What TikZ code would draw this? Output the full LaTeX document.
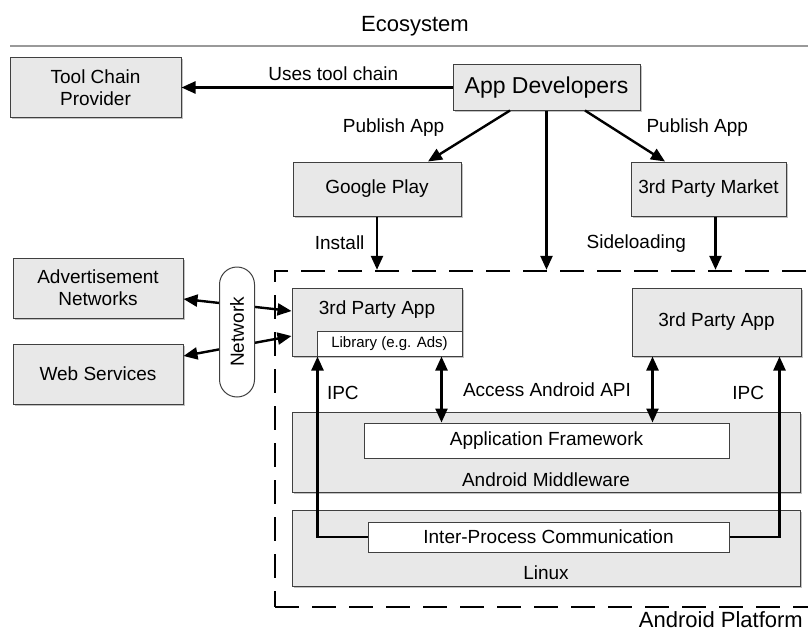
\documentclass[tikz,border=0pt]{standalone}
\usepackage{fontspec}
\setmainfont{Liberation Sans}
\usetikzlibrary{arrows.meta, positioning, shapes.misc, shadows}
\tikzstyle{layers}=[x=1pt, y=-1pt, >={Triangle[length=14pt,width=12pt]}, font=\fontsize{19}{22}\selectfont]
\tikzstyle{block}=[draw=black!75, line width=1pt, fill=black!9, align=center, inner sep=0pt,
  drop shadow={shadow xshift=1.5pt, shadow yshift=-1.5pt, fill=black!40, opacity=0.6}]
\tikzstyle{slot}=[draw=black!75, line width=1pt, fill=white, inner sep=0pt]
\tikzstyle{link}=[line width=2.4pt, ->]

\begin{document}
\begin{tikzpicture}[layers]
  \useasboundingbox (0,0) rectangle (808,634);
  \node (eco) at (415,26) {\fontsize{22}{26}\selectfont Ecosystem};
  \draw[line width=2.5pt, black!40] (10,46) -- (808,46);

  % ecosystem
  \node[block, minimum width=171pt, minimum height=59pt] (tools)  at (95.5,87.5) {Tool Chain\\Provider};
  \node[block, minimum width=187pt, minimum height=45pt, font=\fontsize{23}{26}\selectfont] (appdev) at (546.5,87.5) {App Developers};
  \node[block, minimum width=168pt, minimum height=54pt] (gplay)  at (377,189)  {Google Play};
  \node[block, minimum width=155pt, minimum height=54pt] (market) at (708.5,189) {3rd Party Market};
  \node[block, minimum width=170pt, minimum height=60pt] (adnet)  at (98,288)   {Advertisement\\Networks};
  \node[block, minimum width=170pt, minimum height=60pt] (websvc) [below=25pt of adnet] {Web Services};

  % android platform
  \node[draw, line width=2.4pt, dash pattern=on 24pt off 13pt, minimum width=560pt, minimum height=336pt,
        inner sep=0pt] (platform) at (555,439) {};
  \node (platname) [anchor=east, inner sep=0pt] at (803,620) {\fontsize{22}{26}\selectfont Android Platform};

  \node[block, minimum width=170pt, minimum height=68pt] (app1) at (377,322) {};
  \node (app1name) at ([yshift=-22pt]app1.north) {3rd Party App};
  \node[slot, minimum width=145pt, minimum height=25pt, font=\fontsize{15}{18}\selectfont] (lib) at (389.5,343.5) {Library (e.g. Ads)};
  \node[block, minimum width=169pt, minimum height=68pt] (app2) at (716.5,322) {3rd Party App};

  \node[block, minimum width=508pt, minimum height=80pt] (mw) at (546,452) {};
  \node[slot, minimum width=365pt, minimum height=35pt] (fw) at (546.5,440.5) {Application Framework};
  \node (mwname) at ([yshift=13pt]mw.south) {Android Middleware};
  \node[block, minimum width=508pt, minimum height=76pt] (linux) [below=17pt of mw] {};
  \node[slot, minimum width=361pt, minimum height=30pt] (ipc) at (548.5,537) {Inter-Process Communication};
  \node (linuxname) at ([yshift=14pt]linux.south) {Linux};

  \coordinate (side) at ([xshift=7pt]market.south);
  \path[link]
    (appdev.west) edge node[above=2pt, pos=0.44] {Uses tool chain} (tools.east)
    ([xshift=-36.5pt]appdev.south) edge node[above left, pos=0.6, xshift=-12pt] {Publish App} ([xshift=51pt]gplay.north)
    ([xshift=38.5pt]appdev.south) edge node[above right, pos=0.6, xshift=9pt] {Publish App} ([xshift=-43.5pt]market.north)
    (appdev.south) edge (appdev.south |- platform.north)
    (gplay.south) edge node[left=8pt] {Install} (gplay.south |- platform.north)
    (side) edge node[left=25pt] {Sideloading} (side |- platform.north);

  % network
  \draw[link, <->] ([yshift=-11pt]adnet.east) -- ([yshift=11pt]app1.west);
  \draw[link, <->] ([yshift=18pt]websvc.east) -- ([yshift=-14pt]app1.west);
  \node[draw=black!75, line width=1pt, fill=white, rounded rectangle, rotate=90, minimum width=130pt,
        minimum height=35pt, inner sep=0pt] (net) at (237,332) {Network};

  % api and ipc
  \coordinate (api1) at ([xshift=-21pt]lib.south east);
  \coordinate (api2) at ([xshift=21pt]app2.south west);
  \path[link, <->]
    (api1) edge (api1 |- fw.north)
    (api2) edge (api2 |- fw.north);
  \node (api) at (547,390) {Access Android API};
  \draw[link] (ipc.west) -| ([xshift=1pt]lib.south west) node[pos=0.9, right=5pt] {IPC};
  \draw[link] (ipc.east) -| ([xshift=-22pt]app2.south east) node[pos=0.9, left=11pt] {IPC};
\end{tikzpicture}
\end{document}
